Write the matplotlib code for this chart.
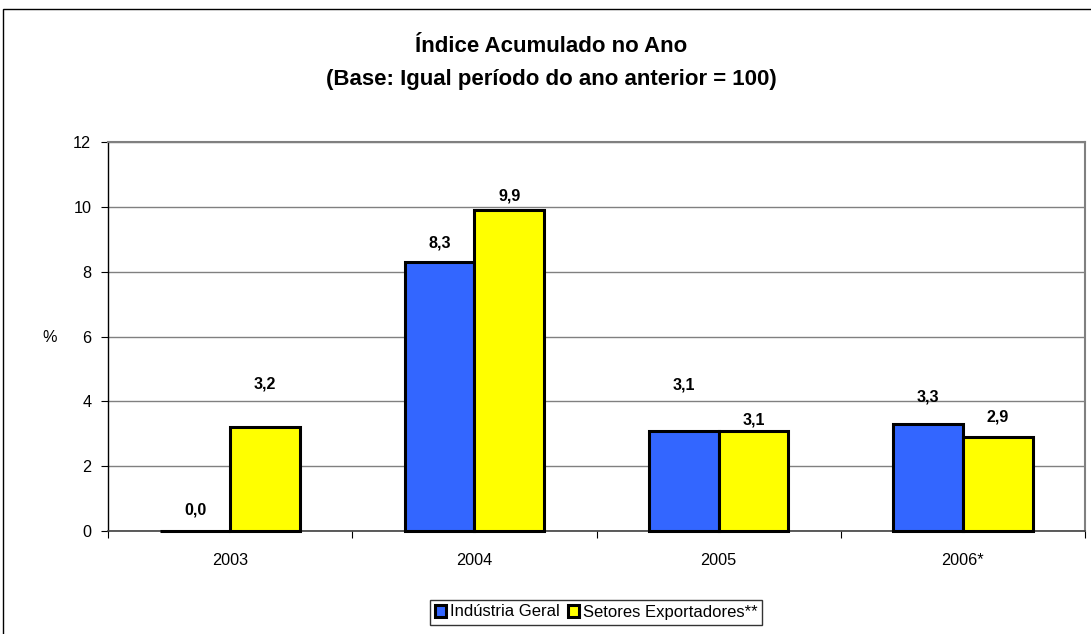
import matplotlib
matplotlib.use("Agg")
import matplotlib.pyplot as plt
from matplotlib.patches import Rectangle
import numpy as np

categories = ["2003", "2004", "2005", "2006*"]
industria_geral = [0.0, 8.3, 3.1, 3.3]
setores_exportadores = [3.2, 9.9, 3.1, 2.9]
series_names = ["Indústria Geral", "Setores Exportadores**"]
y_ticks = [0, 2, 4, 6, 8, 10, 12]

# label centre offsets above bar tops (pixels) – layout only
label_dy_blue = [21, 19, 46, 27]
label_dy_yellow = [43, 14, 11, 20]

plt.rcParams['font.family'] = ['Liberation Sans', 'DejaVu Sans']

W, H = 1091, 634
fig = plt.figure(figsize=(W / 100, H / 100), dpi=100)
fig.patch.set_facecolor('white')

# outer chart border
fig.patches.append(Rectangle((3 / W, -0.05), 1.1, (H - 9) / H + 0.05,
                             transform=fig.transFigure, fill=False,
                             ec='black', lw=1.0))

left, right, top, bottom = 108, 1085, 142, 531
ax = fig.add_axes([left / W, 1 - bottom / H, (right - left) / W, (bottom - top) / H])

x = np.arange(len(categories))
bw = 1 / 3.5
c_blue = '#3366FF'
c_yellow = '#FFFF00'

ax.set_ylim(0, 12)
ax.set_xlim(-0.5, len(categories) - 0.5)
ax.set_yticks(y_ticks)
ax.set_yticklabels([str(v) for v in y_ticks], fontsize=11.7)
ax.yaxis.grid(True, color='#808080', lw=1.0)
ax.set_axisbelow(True)

b1 = ax.bar(x - bw / 2, industria_geral, bw, color=c_blue, edgecolor='black',
            lw=2.2, label=series_names[0], zorder=3, clip_on=False)
b2 = ax.bar(x + bw / 2, setores_exportadores, bw, color=c_yellow, edgecolor='black',
            lw=2.2, label=series_names[1], zorder=3, clip_on=False)

def fmt(v):
    return f"{v:.1f}".replace('.', ',')

for xi, v, dy in zip(x, industria_geral, label_dy_blue):
    ax.annotate(fmt(v), (xi - bw / 2, v), xytext=(0, dy * 0.72),
                textcoords='offset points', ha='center', va='center',
                fontsize=11.6, fontweight='bold')
for xi, v, dy in zip(x, setores_exportadores, label_dy_yellow):
    ax.annotate(fmt(v), (xi + bw / 2, v), xytext=(0, dy * 0.72),
                textcoords='offset points', ha='center', va='center',
                fontsize=11.6, fontweight='bold')

# x ticks at category boundaries, labels at centres
ax.set_xticks(np.arange(-0.5, len(categories), 1.0))
ax.set_xticklabels([])
ax.set_xticks(x, minor=True)
ax.set_xticklabels(categories, minor=True, fontsize=11.7)
ax.tick_params(axis='x', which='minor', length=0, pad=16)
ax.tick_params(axis='x', which='major', length=5, direction='out', color='black')
ax.tick_params(axis='y', length=5, direction='out', color='black', pad=7)

for s in ['top', 'right']:
    ax.spines[s].set_color('#808080')
    ax.spines[s].set_linewidth(1.5)
ax.spines['left'].set_color('black')
ax.spines['bottom'].set_color('#404040')
ax.spines['left'].set_linewidth(1.0)
ax.spines['bottom'].set_linewidth(1.2)

fig.text(50 / W, 1 - 337 / H, '%', fontsize=11.7, ha='center', va='center')

fig.text(551 / W, 1 - 47 / H, 'Índice Acumulado no Ano', fontsize=16,
         fontweight='bold', ha='center', va='center')
fig.text(551 / W, 1 - 80 / H, '(Base: Igual período do ano anterior = 100)',
         fontsize=16, fontweight='bold', ha='center', va='center')

leg = fig.legend(handles=[b1, b2], labels=series_names, loc='center',
                 bbox_to_anchor=(596 / W, 1 - 612 / H), ncol=2, fontsize=12,
                 frameon=True, fancybox=False, edgecolor='black',
                 handlelength=0.7, handleheight=0.7, handletextpad=0.2,
                 columnspacing=0.5, borderpad=0.3, borderaxespad=0)
leg.get_frame().set_linewidth(1.0)

fig.savefig('out.png', dpi=100)
